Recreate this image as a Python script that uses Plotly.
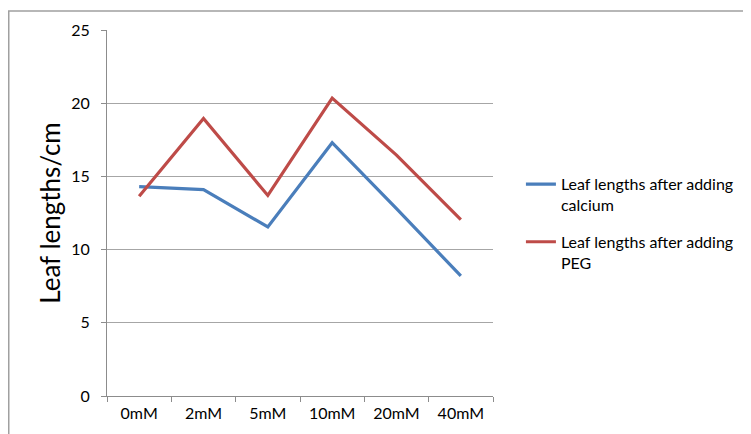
import plotly.graph_objects as go

categories = ["0mM", "2mM", "5mM", "10mM", "20mM", "40mM"]
calcium = [14.3, 14.1, 11.55, 17.3, 12.8, 8.2]
peg = [13.65, 18.95, 13.7, 20.35, 16.45, 12.05]
names = ["Leaf lengths after adding<br>calcium", "Leaf lengths after adding<br>PEG"]
colors = ["#4A7EBB", "#BE4B48"]

# page has an 8px body margin; figure coordinates below are page - 8
W, H = 743, 426
L, R, T, B = 99, 486, 21, 389

fig = go.Figure()
for i, (vals, name, col) in enumerate(zip([calcium, peg], names, colors)):
    fig.add_trace(go.Scatter(x=categories, y=vals, mode="lines", name=name,
                             legendgroup="g%d" % i,
                             line=dict(color=col, width=3.2)))

font = "Lato, 'Open Sans', sans-serif"
fig.update_layout(
    width=W, height=H,
    margin=dict(l=L, r=W - R, t=T, b=H - B, pad=0),
    paper_bgcolor="white", plot_bgcolor="white",
    font=dict(family=font, size=16, color="#000000"),
    showlegend=True,
    legend=dict(x=(514 - L) / (R - L), xanchor="left", y=(B - 159) / (B - T), yanchor="top",
                font=dict(size=16), valign="top", tracegroupgap=13,
                bgcolor="rgba(0,0,0,0)", borderwidth=0),
    xaxis=dict(type="category", showline=True, linecolor="#8C8C8C", linewidth=1,
               ticks="outside", tickson="boundaries", ticklen=5, tickcolor="#8C8C8C",
               showgrid=False, tickfont=dict(size=16), range=[-0.5, 5.5],
               ticklabelstandoff=3),
    yaxis=dict(range=[0, 25], dtick=5, showline=True, linecolor="#8C8C8C", linewidth=1,
               ticks="outside", ticklen=5, tickcolor="#8C8C8C",
               showgrid=True, gridcolor="#A6A6A6", gridwidth=1, zeroline=False,
               tickfont=dict(size=16), ticklabelstandoff=8,
               title=dict(text="Leaf lengths/cm", font=dict(size=26), standoff=3)),
)

# outer chart border
fig.add_shape(type="rect", xref="paper", yref="paper",
              x0=(0.5 - L) / (R - L), x1=(770 - L) / (R - L),
              y0=(B - 450) / (B - T), y1=(B - 2) / (B - T),
              line=dict(color="#A0A0A0", width=1.5), fillcolor="rgba(0,0,0,0)", layer="below")

fig.write_html("out.html")
